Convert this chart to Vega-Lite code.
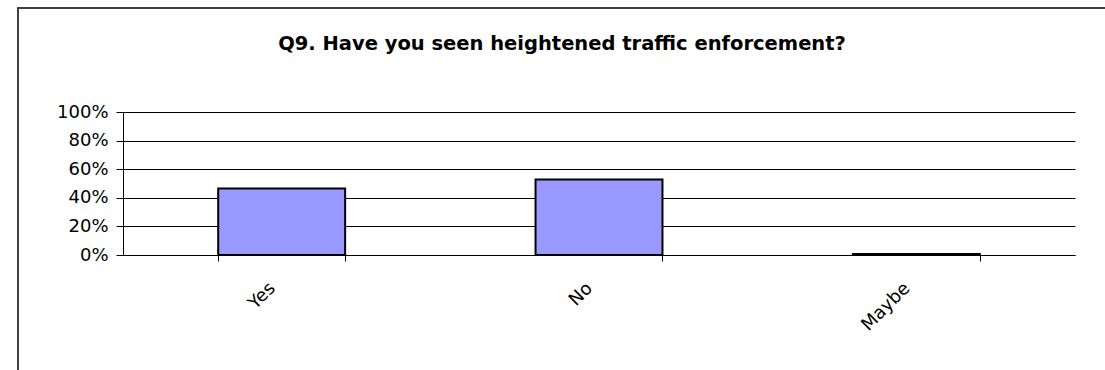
{
  "$schema": "https://vega.github.io/schema/vega-lite/v6.json",
  "autosize": {"type": "none"},
  "padding": {"left": 18, "top": 8, "right": 0, "bottom": 0},
  "width": 1088,
  "height": 380,
  "background": "white",
  "view": {"stroke": "#404040", "strokeWidth": 2, "fill": "white"},
  "title": {
    "text": "Q9.  Have you seen heightened traffic enforcement?",
    "anchor": "middle",
    "frame": "group",
    "offset": -46,
    "font": "DejaVu Sans",
    "fontSize": 19.5,
    "fontWeight": "bold",
    "color": "black"
  },
  "data": {
    "values": [
      {"answer": "Yes", "share": 0.465},
      {"answer": "No", "share": 0.528},
      {"answer": "Maybe", "share": 0.007}
    ]
  },
  "mark": {"type": "bar", "fill": "#9999FF", "stroke": "black", "strokeWidth": 2},
  "encoding": {
    "x": {
      "field": "answer",
      "type": "nominal",
      "sort": null,
      "scale": {"range": [105, 1057], "paddingInner": 0.6, "paddingOuter": 0.3},
      "axis": {
        "title": null,
        "offset": -133,
        "labelAngle": -45,
        "tickBand": "extent",
        "tickSize": 6,
        "labelPadding": 18,
        "labelOffset": -16,
        "domainColor": "black",
        "tickColor": "black",
        "labelColor": "black",
        "labelFont": "DejaVu Sans",
        "labelFontSize": 18,
        "grid": false
      }
    },
    "y": {
      "field": "share",
      "type": "quantitative",
      "scale": {"domain": [0, 1], "nice": false, "range": [247, 104]},
      "axis": {
        "title": null,
        "offset": -105,
        "values": [0, 0.2, 0.4, 0.6, 0.8, 1],
        "format": ".0%",
        "tickSize": 7,
        "labelPadding": 8,
        "domainColor": "black",
        "tickColor": "black",
        "gridColor": "black",
        "gridOpacity": 1,
        "grid": true,
        "labelColor": "black",
        "labelFont": "DejaVu Sans",
        "labelFontSize": 18
      }
    }
  }
}
